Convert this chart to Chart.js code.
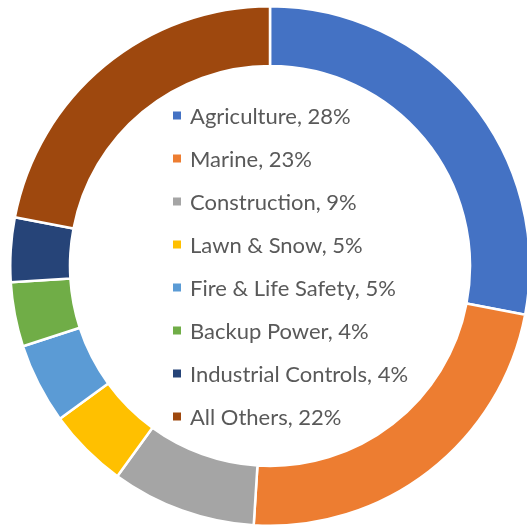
<!DOCTYPE html>
<html>
<head>
<meta charset="utf-8">
<script src="https://cdn.jsdelivr.net/npm/chart.js@4/dist/chart.umd.min.js"></script>
<style>
  html, body { margin: 0; padding: 0; width: 527px; height: 527px; overflow: hidden; background: #fff; }
  #wrap { position: absolute; left: 9px; top: 5px; width: 522px; height: 522px; }
</style>
</head>
<body>
<div id="wrap"><canvas id="c" width="522" height="522"></canvas></div>
<script>
const categories = ["Agriculture", "Marine", "Construction", "Lawn & Snow", "Fire & Life Safety", "Backup Power", "Industrial Controls", "All Others"];
const shares = [28, 23, 9, 5, 5, 4, 4, 22];
const colors = ["#4472C4", "#ED7D31", "#A5A5A5", "#FFC000", "#5B9BD5", "#70AD47", "#264478", "#9E480E"];

const centerLegend = {
  id: 'centerLegend',
  afterDraw(chart) {
    const ctx = chart.ctx;
    const meta = chart.getDatasetMeta(0);
    const arc = meta.data[0];
    const cx = arc.x, cy = arc.y;
    const n = chart.data.labels.length;
    const gap = 43;
    const top = cy - gap * (n - 1) / 2;
    const boxX = cx - 97;
    const textX = cx - 80;
    ctx.save();
    ctx.font = '22px Lato';
    ctx.textBaseline = 'middle';
    ctx.textAlign = 'left';
    chart.data.labels.forEach((lab, i) => {
      const y = top + i * gap;
      ctx.fillStyle = chart.data.datasets[0].backgroundColor[i];
      ctx.fillRect(boxX, y - 4, 8, 8);
      ctx.fillStyle = '#595959';
      ctx.fillText(lab + ', ' + chart.data.datasets[0].data[i] + '%', textX, y + 1);
    });
    ctx.restore();
  }
};

new Chart(document.getElementById('c'), {
  type: 'doughnut',
  data: {
    labels: categories,
    datasets: [{
      data: shares,
      backgroundColor: colors,
      borderColor: '#ffffff',
      borderWidth: 2.5,
      hoverOffset: 0
    }]
  },
  options: {
    responsive: false,
    animation: false,
    cutout: '77%',
    layout: { padding: 0 },
    plugins: { legend: { display: false }, tooltip: { enabled: false } }
  },
  plugins: [centerLegend]
});
</script>
</body>
</html>
